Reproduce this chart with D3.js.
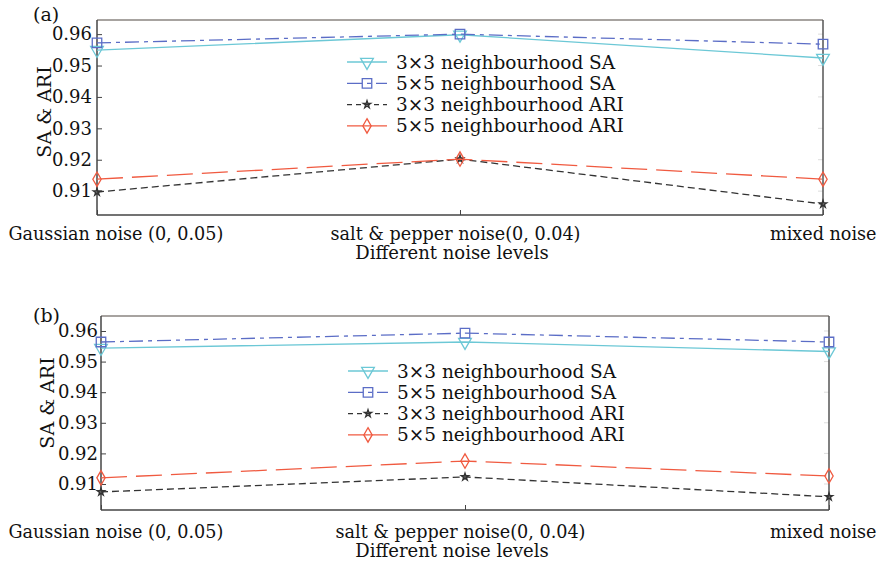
<!DOCTYPE html>
<html>
<head>
<meta charset="utf-8">
<script src="https://cdn.jsdelivr.net/npm/d3@7"></script>
<style>
  body { margin: 0; background: #fff; }
  svg text { font-family: "DejaVu Serif", serif; fill: #111; }
</style>
</head>
<body>
<div id="chart"></div>
<script>
const categories = ['Gaussian noise (0, 0.05)', 'salt & pepper noise(0, 0.04)', 'mixed noise'];
const yTicks = [0.91, 0.92, 0.93, 0.94, 0.95, 0.96];
const seriesNames = ['3×3 neighbourhood SA', '5×5 neighbourhood SA', '3×3 neighbourhood ARI', '5×5 neighbourhood ARI'];

// panel (a)
const sa3A = [0.9549, 0.9598, 0.9524];
const sa5A = [0.9572, 0.9600, 0.9568];
const ari3A = [0.9097, 0.9202, 0.9059];
const ari5A = [0.9138, 0.9202, 0.9138];

// panel (b)
const sa3B = [0.9544, 0.9564, 0.9533];
const sa5B = [0.9564, 0.9593, 0.9564];
const ari3B = [0.9074, 0.9123, 0.9058];
const ari5B = [0.9120, 0.9175, 0.9126];

const styles = [
  { color: '#6cc8d6', dash: null, legendDash: null, symbol: 'tri' },
  { color: '#5b6dc6', dash: '14,5,4,5', legendDash: '15,5,4,5', symbol: 'square' },
  { color: '#333333', dash: '7,4', legendDash: '5,4', symbol: 'star' },
  { color: '#f05a40', dash: '26,9', legendDash: null, symbol: 'diamond' },
];

const svg = d3.select('#chart').append('svg')
  .attr('width', 880)
  .attr('height', 563);

function marker(sel, type, color) {
  let gen;
  if (type === 'tri') gen = d3.symbol(d3.symbolTriangle, 70);
  else if (type === 'square') gen = d3.symbol(d3.symbolSquare, 90);
  else if (type === 'diamond') gen = d3.symbol(d3.symbolDiamond, 60);
  else gen = d3.symbol(d3.symbolStar, 16);
  sel.append('path')
    .attr('d', gen())
    .attr('transform', d => `translate(${d[0]},${d[1]})` + (type === 'tri' ? ' rotate(180)' : ''))
    .attr('fill', 'none')
    .attr('stroke', color)
    .attr('stroke-width', type === 'star' ? 1.4 : 1.3);
}

function drawPanel(p) {
  const x = d3.scalePoint().domain(categories).range([p.left, p.right]);
  const y = d3.scaleLinear().domain(p.yDomain).range([p.bottom, p.top]);
  const g = svg.append('g');

  // y axis, ticks pointing inward
  const ya = g.append('g')
    .attr('transform', `translate(${p.left},0)`)
    .call(d3.axisLeft(y).tickValues(yTicks).tickSize(-5).tickPadding(p.tickPad).tickFormat(d3.format('.2f')));
  ya.select('.domain').remove();
  ya.selectAll('.tick line').attr('stroke', '#444');
  ya.selectAll('.tick text').attr('font-size', 18);

  // faint ticks on the right
  g.append('g').selectAll('line').data(yTicks).join('line')
    .attr('x1', p.right).attr('x2', p.right - 5)
    .attr('y1', d => y(d)).attr('y2', d => y(d))
    .attr('stroke', '#ddd');

  // x axis
  const xa = g.append('g')
    .attr('transform', `translate(0,${p.bottom})`)
    .call(d3.axisBottom(x).tickSize(-5).tickPadding(10));
  xa.select('.domain').remove();
  xa.selectAll('.tick line').attr('stroke', '#444');
  xa.selectAll('.tick text')
    .attr('font-size', 17.6)
    .attr('dy', null)
    .attr('y', p.labelY - p.bottom)
    .attr('text-anchor', (d, i) => (i === 0 ? 'start' : i === 2 ? 'end' : 'middle'))
    .attr('x', (d, i) => (i === 0 ? 8 - p.left : i === 2 ? 876 - p.right : -5));

  // frame
  g.append('line').attr('x1', p.left).attr('x2', p.right).attr('y1', p.top).attr('y2', p.top)
    .attr('stroke', '#8a8480').attr('stroke-width', 1.5);
  g.append('line').attr('x1', p.right).attr('x2', p.right).attr('y1', p.top).attr('y2', p.bottom)
    .attr('stroke', '#555').attr('stroke-width', 1.5);
  g.append('line').attr('x1', p.left).attr('x2', p.right).attr('y1', p.bottom).attr('y2', p.bottom)
    .attr('stroke', '#444').attr('stroke-width', 1.5);
  g.append('line').attr('x1', p.left).attr('x2', p.left).attr('y1', p.top).attr('y2', p.bottom)
    .attr('stroke', '#444').attr('stroke-width', 1.5);

  const line = d3.line().x(d => d[0]).y(d => d[1]);

  p.series.forEach((vals, k) => {
    const st = styles[k];
    const pts = vals.map((v, i) => [x(categories[i]), y(v)]);
    g.append('path')
      .attr('d', line(pts))
      .attr('fill', 'none')
      .attr('stroke', st.color)
      .attr('stroke-width', 1.3)
      .attr('stroke-dasharray', st.dash);
    const m = g.append('g').selectAll('g').data(pts).join('g');
    marker(m, st.symbol, st.color);
  });

  // legend
  seriesNames.forEach((name, k) => {
    const st = styles[k];
    const ly = p.legendY + k * 21.3;
    g.append('line')
      .attr('x1', p.legendX).attr('x2', p.legendX + 40)
      .attr('y1', ly).attr('y2', ly)
      .attr('stroke', st.color).attr('stroke-width', 1.3)
      .attr('stroke-dasharray', st.legendDash);
    const m = g.append('g').selectAll('g').data([[p.legendX + 20, ly]]).join('g');
    marker(m, st.symbol, st.color);
    g.append('text')
      .attr('x', p.legendX + 49)
      .attr('y', ly + 6.5)
      .attr('font-size', 18.5)
      .text(name);
  });

  g.append('text')
    .attr('x', 452).attr('y', p.labelY + 19)
    .attr('text-anchor', 'middle')
    .attr('font-size', 18)
    .text('Different noise levels');

  g.append('text')
    .attr('transform', `translate(${p.ylabX},${p.ylabY}) rotate(-90)`)
    .attr('text-anchor', 'middle')
    .attr('font-size', 19)
    .text('SA & ARI');

  g.append('text')
    .attr('x', 33).attr('y', p.tagY)
    .attr('font-size', 19)
    .text(p.tag);
}

drawPanel({
  tag: '(a)', tagY: 21,
  left: 97, right: 823, top: 20, bottom: 215,
  yDomain: [0.9024, 0.9645],
  series: [sa3A, sa5A, ari3A, ari5A],
  labelY: 240, tickPad: 5,
  legendX: 347, legendY: 62,
  ylabX: 51, ylabY: 112,
});

drawPanel({
  tag: '(b)', tagY: 322,
  left: 101, right: 829, top: 316, bottom: 510,
  yDomain: [0.9015, 0.9649],
  series: [sa3B, sa5B, ari3B, ari5B],
  labelY: 538, tickPad: 3,
  legendX: 348, legendY: 371,
  ylabX: 54, ylabY: 403,
});
</script>
</body>
</html>
